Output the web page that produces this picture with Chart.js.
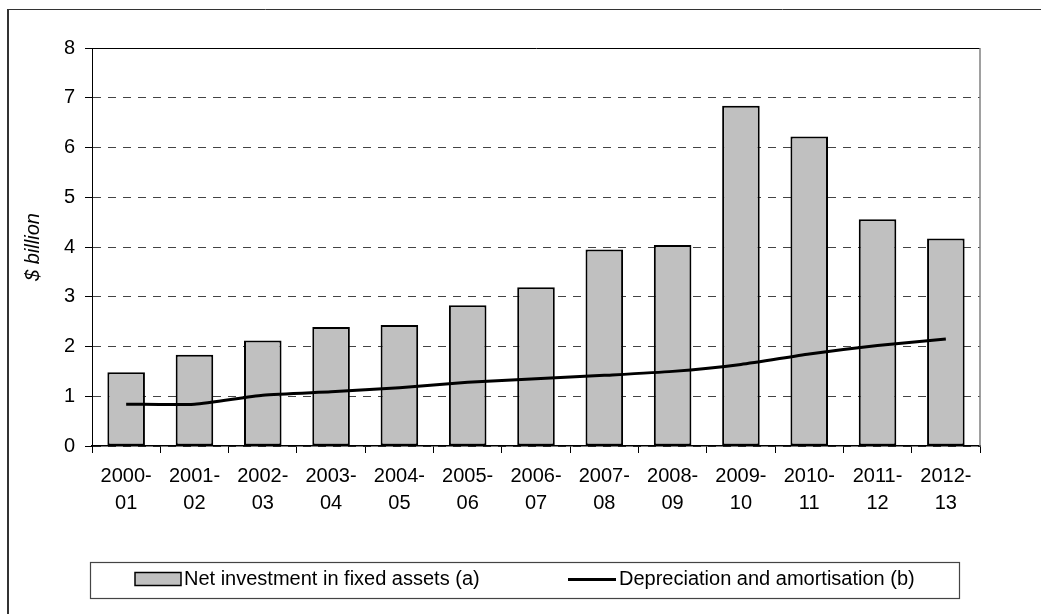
<!DOCTYPE html>
<html>
<head>
<meta charset="utf-8">
<script src="https://cdn.jsdelivr.net/npm/chart.js@4/dist/chart.umd.min.js"></script>
<style>
  html, body { margin: 0; padding: 0; background: #fff; }
  #wrap { width: 1041px; height: 614px; position: relative; }
</style>
</head>
<body>
<div id="wrap"><canvas id="c" width="1041" height="614"></canvas></div>
<script>
// Financial years on the category axis
const years = [
  ['2000-', '01'], ['2001-', '02'], ['2002-', '03'], ['2003-', '04'], ['2004-', '05'],
  ['2005-', '06'], ['2006-', '07'], ['2007-', '08'], ['2008-', '09'], ['2009-', '10'],
  ['2010-', '11'], ['2011-', '12'], ['2012-', '13']
];

// $ billion
const netInvestment = [1.48, 1.835, 2.12, 2.39, 2.43, 2.83, 3.19, 3.95, 4.04, 6.84, 6.22, 4.56, 4.17];
const depreciation = [0.84, 0.84, 1.02, 1.09, 1.17, 1.28, 1.35, 1.42, 1.50, 1.64, 1.85, 2.02, 2.15];

const seriesNames = ['Net investment in fixed assets (a)', 'Depreciation and amortisation (b)'];
const yTicks = { min: 0, max: 8, step: 1 };
const yTitle = '$ billion';

const FONT = "'Liberation Sans', Arial, Helvetica, sans-serif";
const BAR_FILL = '#c0c0c0';

// Outer frame, plot-area right edge and the boxed legend under the chart
const framePlugin = {
  id: 'frame',
  beforeDraw(chart) {
    const ctx = chart.ctx;
    ctx.save();
    ctx.fillStyle = '#fff';
    ctx.fillRect(0, 0, chart.width, chart.height);
    ctx.strokeStyle = '#333';
    ctx.lineWidth = 2;
    ctx.beginPath();
    ctx.moveTo(8, chart.height);
    ctx.lineTo(8, 9.5);
    ctx.stroke();
    ctx.lineWidth = 1;
    ctx.beginPath();
    ctx.moveTo(7, 9.5);
    ctx.lineTo(chart.width, 9.5);
    ctx.stroke();
    ctx.restore();
  },
  afterDraw(chart) {
    const ctx = chart.ctx;
    const a = chart.chartArea;
    ctx.save();
    // right edge of plot area
    ctx.strokeStyle = '#808080';
    ctx.lineWidth = 1.5;
    ctx.beginPath();
    ctx.moveTo(a.right, a.top);
    ctx.lineTo(a.right, a.bottom);
    ctx.stroke();

    // legend box
    ctx.strokeStyle = '#444';
    ctx.lineWidth = 1.2;
    ctx.strokeRect(90.5, 562.5, 869, 36);

    const ds = chart.data.datasets;
    const barDs = ds.find((d) => d.type === 'bar');
    const lineDs = ds.find((d) => d.type === 'line');
    ctx.font = '20px ' + FONT;
    ctx.textBaseline = 'alphabetic';
    ctx.textAlign = 'left';

    // bar swatch
    ctx.fillStyle = barDs.backgroundColor;
    ctx.fillRect(135, 572.5, 46, 13);
    ctx.strokeStyle = '#000';
    ctx.lineWidth = 1.5;
    ctx.strokeRect(135, 572.5, 46, 13);
    ctx.fillStyle = '#000';
    ctx.fillText(barDs.label, 184, 585);

    // line swatch
    ctx.strokeStyle = lineDs.borderColor;
    ctx.lineWidth = 3;
    ctx.beginPath();
    ctx.moveTo(568, 579.5);
    ctx.lineTo(616, 579.5);
    ctx.stroke();
    ctx.fillText(lineDs.label, 619, 585);
    ctx.restore();
  }
};

new Chart(document.getElementById('c'), {
  data: {
    labels: years,
    datasets: [
      {
        type: 'line',
        label: seriesNames[1],
        data: depreciation,
        borderColor: '#000',
        borderWidth: 3,
        pointRadius: 0,
        tension: 0.2,
        order: 0
      },
      {
        type: 'bar',
        label: seriesNames[0],
        data: netInvestment,
        backgroundColor: BAR_FILL,
        borderColor: '#000',
        borderWidth: 2,
        borderSkipped: false,
        categoryPercentage: 1,
        barPercentage: 0.55,
        order: 1
      }
    ]
  },
  options: {
    responsive: false,
    animation: false,
    devicePixelRatio: 1,
    layout: { padding: { top: 48, right: 61, bottom: 0, left: 0 } },
    plugins: {
      legend: { display: false },
      tooltip: { enabled: false }
    },
    scales: {
      x: {
        offset: true,
        afterFit(scale) { scale.height = 168; },
        grid: {
          offset: true,
          drawOnChartArea: false,
          drawTicks: true,
          tickLength: 7,
          tickColor: '#000',
          tickWidth: 1
        },
        border: { display: true, color: '#000', width: 1.5 },
        ticks: {
          color: '#000',
          padding: 10,
          maxRotation: 0,
          autoSkip: false,
          font: { family: FONT, size: 20, lineHeight: 1.35 }
        }
      },
      y: {
        min: yTicks.min,
        max: yTicks.max,
        afterFit(scale) { scale.width = 92; },
        grid: {
          color: (c) => (c.tick && c.tick.value === yTicks.max ? '#000' : '#444'),
          lineWidth: 1,
          tickLength: 7,
          tickColor: '#000'
        },
        border: {
          display: true,
          color: '#000',
          width: 1,
          dash: (c) => (c.tick && c.tick.value === yTicks.max ? [] : [8, 7])
        },
        ticks: {
          stepSize: yTicks.step,
          color: '#000',
          padding: 10,
          font: { family: FONT, size: 20 }
        },
        title: {
          display: true,
          text: yTitle,
          color: '#000',
          padding: { top: 21, bottom: 0 },
          font: { family: FONT, size: 20, style: 'italic' }
        }
      }
    }
  },
  plugins: [framePlugin]
});
</script>
</body>
</html>
